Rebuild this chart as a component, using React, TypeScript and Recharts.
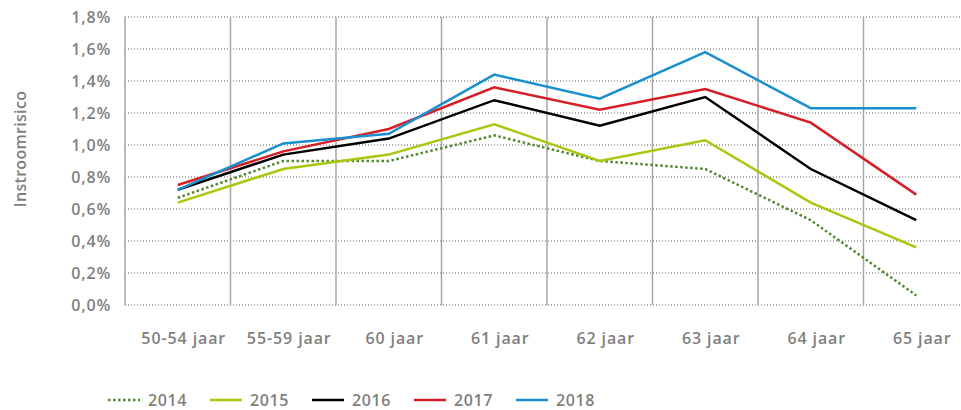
import React from 'react';
import { LineChart, Line, XAxis, YAxis, CartesianGrid, Legend } from 'recharts';

const categories = ['50-54 jaar', '55-59 jaar', '60 jaar', '61 jaar', '62 jaar', '63 jaar', '64 jaar', '65 jaar'];
const s2014 = [0.67, 0.90, 0.90, 1.06, 0.90, 0.85, 0.53, 0.06];
const s2015 = [0.64, 0.85, 0.94, 1.13, 0.90, 1.03, 0.64, 0.36];
const s2016 = [0.72, 0.94, 1.04, 1.28, 1.12, 1.30, 0.85, 0.53];
const s2017 = [0.75, 0.96, 1.10, 1.36, 1.22, 1.35, 1.14, 0.69];
const s2018 = [0.72, 1.01, 1.07, 1.44, 1.29, 1.58, 1.23, 1.23];
const yTicks = [0, 0.2, 0.4, 0.6, 0.8, 1.0, 1.2, 1.4, 1.6, 1.8];

const seriesList = [
  { key: 'y2014', name: '2014', values: s2014, color: '#4f8a2c', dash: '2.5 2.5' },
  { key: 'y2015', name: '2015', values: s2015, color: '#a8c70f', dash: undefined },
  { key: 'y2016', name: '2016', values: s2016, color: '#000000', dash: undefined },
  { key: 'y2017', name: '2017', values: s2017, color: '#d51f27', dash: undefined },
  { key: 'y2018', name: '2018', values: s2018, color: '#1a8fcf', dash: undefined },
];

const data = categories.map((c, i) => {
  const row: Record<string, string | number> = { cat: c };
  seriesList.forEach((s) => {
    row[s.key] = s.values[i];
  });
  return row;
});

const textColor = '#7f7f7f';
const font = '"Open Sans", sans-serif';
const CHART_W = 969;
const PLOT_LEFT = 125;
const HALF_BAND = (CHART_W - PLOT_LEFT) / categories.length / 2;

const fmt = (v: number) => v.toFixed(1).replace('.', ',') + '%';

// vertical grid lines at the category band boundaries
const bandBoundaries = (props: any) => {
  const off = props.offset;
  const n = categories.length;
  return categories.map((_, i) => off.left + (off.width * i) / n);
};

const LegendContent = () => (
  <div
    style={{
      display: 'flex',
      paddingLeft: 108,
      fontFamily: font,
      fontWeight: 600,
      fontSize: 16,
      lineHeight: '16px',
      letterSpacing: 0.6,
      color: textColor,
    }}
  >
    {seriesList.map((s) => (
      <div key={s.key} style={{ display: 'flex', alignItems: 'center', width: 102 }}>
        <svg width={40} height={10}>
          <line x1={0} y1={5} x2={32} y2={5} stroke={s.color} strokeWidth={2.5} strokeDasharray={s.dash} />
        </svg>
        <span>{s.name}</span>
      </div>
    ))}
  </div>
);

const YLabel = (props: any) => {
  const vb = props.viewBox || {};
  const cx = 20;
  const cy = vb.y + vb.height / 2 - 12;
  return (
    <text
      x={cx}
      y={cy}
      transform={`rotate(-90, ${cx}, ${cy})`}
      textAnchor="middle"
      dominantBaseline="central"
      fill={textColor}
      fontFamily={font}
      fontWeight={600}
      fontSize={16}
      letterSpacing={0.3}
    >
      Instroomrisico
    </text>
  );
};

export default function App() {
  return (
    <div style={{ position: 'absolute', left: 0, top: 0, width: 961, height: 410, overflow: 'hidden', background: '#fff' }}>
      <LineChart width={CHART_W} height={410} data={data} margin={{ top: 17, right: 0, bottom: 75, left: 0 }}>
        <CartesianGrid vertical={false} stroke="#555555" strokeDasharray="1 2" />
        <CartesianGrid
          horizontal={false}
          verticalCoordinatesGenerator={bandBoundaries}
          stroke="#a6a6a6"
          strokeWidth={1.5}
        />
        <XAxis
          dataKey="cat"
          axisLine={false}
          tickLine={false}
          height={30}
          tickMargin={22}
          interval={0}
          padding={{ left: HALF_BAND, right: HALF_BAND }}
          tick={{ fill: textColor, fontFamily: font, fontWeight: 600, fontSize: 16, letterSpacing: 0.9, dx: 6 }}
        />
        <YAxis
          domain={[0, 1.8]}
          ticks={yTicks}
          width={PLOT_LEFT}
          axisLine={false}
          tickLine={false}
          tickMargin={8}
          tickFormatter={fmt}
          tick={{ fill: textColor, fontFamily: font, fontWeight: 600, fontSize: 16, letterSpacing: 0.8 }}
          label={<YLabel />}
        />
        {seriesList.map((s) => (
          <Line
            key={s.key}
            dataKey={s.key}
            name={s.name}
            stroke={s.color}
            strokeWidth={2.5}
            strokeDasharray={s.dash}
            dot={false}
            activeDot={false}
            isAnimationActive={false}
            type="linear"
          />
        ))}
        <Legend
          verticalAlign="middle"
          align="center"
          layout="horizontal"
          content={<LegendContent />}
          wrapperStyle={{ left: 0, top: 392, width: 961, height: 16 }}
        />
      </LineChart>
    </div>
  );
}
